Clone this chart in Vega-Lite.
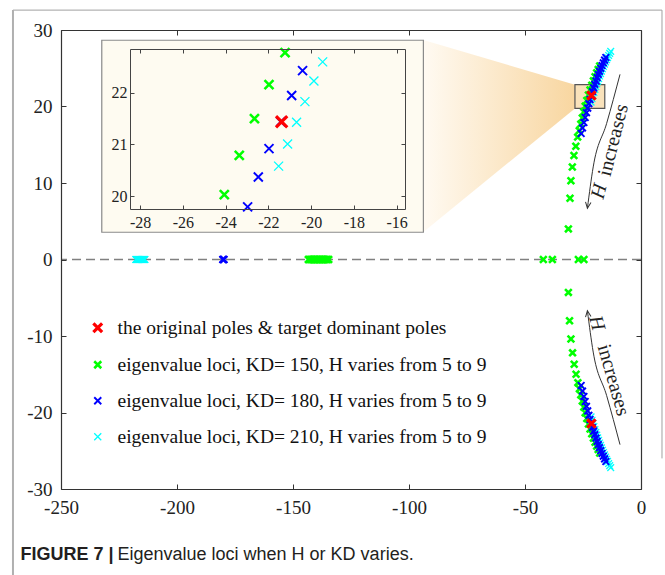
{
"$schema": "https://vega.github.io/schema/vega-lite/v6.json",
"width": 580, "height": 459,
"autosize": {"type": "none"},
"padding": {"left": 61, "top": 30, "right": 24, "bottom": 86},
"background": "#ffffff",
"config": {"view": {"stroke": null}, "font": "Liberation Serif", "axis": {"labelFont": "Liberation Serif"}},
"datasets": {
 "poles": [
  {"s":"g","x":-17.8,"y":25.3},{"s":"g","x":-18.45,"y":24.85},{"s":"g","x":-19.1,"y":24.4},{"s":"g","x":-19.8,"y":23.9},{"s":"g","x":-20.5,"y":23.35},{"s":"g","x":-21.22,"y":22.78},{"s":"g","x":-21.97,"y":22.16},{"s":"g","x":-22.65,"y":21.5},{"s":"g","x":-23.36,"y":20.79},{"s":"g","x":-24.06,"y":20.03},{"s":"g","x":-24.65,"y":19.3},{"s":"g","x":-25.3,"y":18.5},{"s":"g","x":-25.95,"y":17.7},{"s":"g","x":-26.6,"y":16.85},{"s":"g","x":-27.3,"y":16.0},{"s":"g","x":-28.1,"y":14.8},{"s":"g","x":-28.9,"y":13.6},{"s":"g","x":-29.6,"y":12.1},{"s":"g","x":-30.2,"y":10.3},{"s":"g","x":-30.6,"y":8.0},{"s":"g","x":-31.3,"y":4.0},
  {"s":"g","x":-17.8,"y":-25.3},{"s":"g","x":-18.45,"y":-24.85},{"s":"g","x":-19.1,"y":-24.4},{"s":"g","x":-19.8,"y":-23.9},{"s":"g","x":-20.5,"y":-23.35},{"s":"g","x":-21.22,"y":-22.78},{"s":"g","x":-21.97,"y":-22.16},{"s":"g","x":-22.65,"y":-21.5},{"s":"g","x":-23.36,"y":-20.79},{"s":"g","x":-24.06,"y":-20.03},{"s":"g","x":-24.65,"y":-19.3},{"s":"g","x":-25.3,"y":-18.5},{"s":"g","x":-25.95,"y":-17.7},{"s":"g","x":-26.55,"y":-16.9},{"s":"g","x":-27.2,"y":-16.1},{"s":"g","x":-28.0,"y":-15.0},{"s":"g","x":-28.8,"y":-13.7},{"s":"g","x":-29.5,"y":-12.2},{"s":"g","x":-30.2,"y":-10.4},{"s":"g","x":-30.8,"y":-8.0},{"s":"g","x":-31.3,"y":-4.3},
  {"s":"g","x":-143.4,"y":0},{"s":"g","x":-143.0,"y":0},{"s":"g","x":-142.5,"y":0},{"s":"g","x":-142.1,"y":0},{"s":"g","x":-141.7,"y":0},{"s":"g","x":-141.2,"y":0},{"s":"g","x":-140.8,"y":0},{"s":"g","x":-140.4,"y":0},{"s":"g","x":-139.9,"y":0},{"s":"g","x":-139.5,"y":0},{"s":"g","x":-139.0,"y":0},{"s":"g","x":-138.6,"y":0},{"s":"g","x":-138.2,"y":0},{"s":"g","x":-137.7,"y":0},{"s":"g","x":-137.3,"y":0},{"s":"g","x":-136.9,"y":0},{"s":"g","x":-136.4,"y":0},{"s":"g","x":-136.0,"y":0},{"s":"g","x":-135.5,"y":0},{"s":"g","x":-135.1,"y":0},{"s":"g","x":-134.6,"y":0},
  {"s":"g","x":-42.1,"y":0},{"s":"g","x":-38.2,"y":0},{"s":"g","x":-27.0,"y":0},{"s":"g","x":-24.6,"y":0},
  {"s":"c","x":-21.52,"y":20.58},{"s":"c","x":-21.1,"y":21.01},{"s":"c","x":-20.68,"y":21.43},{"s":"c","x":-20.29,"y":21.83},{"s":"c","x":-19.87,"y":22.23},{"s":"c","x":-19.46,"y":22.6},{"s":"c","x":-19.06,"y":22.96},{"s":"c","x":-18.66,"y":23.31},{"s":"c","x":-18.26,"y":23.65},{"s":"c","x":-17.86,"y":23.98},{"s":"c","x":-17.45,"y":24.3},{"s":"c","x":-17.03,"y":24.62},{"s":"c","x":-16.6,"y":24.93},{"s":"c","x":-16.17,"y":25.23},{"s":"c","x":-15.73,"y":25.53},{"s":"c","x":-15.29,"y":25.82},{"s":"c","x":-14.84,"y":26.11},{"s":"c","x":-14.4,"y":26.39},{"s":"c","x":-13.95,"y":26.67},{"s":"c","x":-13.5,"y":26.94},{"s":"c","x":-13.05,"y":27.21},
  {"s":"c","x":-21.52,"y":-20.58},{"s":"c","x":-21.1,"y":-21.01},{"s":"c","x":-20.68,"y":-21.43},{"s":"c","x":-20.29,"y":-21.83},{"s":"c","x":-19.87,"y":-22.23},{"s":"c","x":-19.46,"y":-22.6},{"s":"c","x":-19.06,"y":-22.96},{"s":"c","x":-18.66,"y":-23.31},{"s":"c","x":-18.26,"y":-23.65},{"s":"c","x":-17.86,"y":-23.98},{"s":"c","x":-17.45,"y":-24.3},{"s":"c","x":-17.03,"y":-24.62},{"s":"c","x":-16.6,"y":-24.93},{"s":"c","x":-16.17,"y":-25.23},{"s":"c","x":-15.73,"y":-25.53},{"s":"c","x":-15.29,"y":-25.82},{"s":"c","x":-14.84,"y":-26.11},{"s":"c","x":-14.4,"y":-26.39},{"s":"c","x":-13.95,"y":-26.67},{"s":"c","x":-13.5,"y":-26.94},{"s":"c","x":-13.05,"y":-27.21},
  {"s":"c","x":-217.8,"y":0},{"s":"c","x":-217.6,"y":0},{"s":"c","x":-217.4,"y":0},{"s":"c","x":-217.2,"y":0},{"s":"c","x":-217.0,"y":0},{"s":"c","x":-216.8,"y":0},{"s":"c","x":-216.6,"y":0},{"s":"c","x":-216.4,"y":0},{"s":"c","x":-216.2,"y":0},{"s":"c","x":-216.0,"y":0},{"s":"c","x":-215.8,"y":0},{"s":"c","x":-215.6,"y":0},{"s":"c","x":-215.4,"y":0},{"s":"c","x":-215.2,"y":0},{"s":"c","x":-215.0,"y":0},{"s":"c","x":-214.8,"y":0},{"s":"c","x":-214.6,"y":0},{"s":"c","x":-214.4,"y":0},{"s":"c","x":-214.2,"y":0},{"s":"c","x":-214.0,"y":0},{"s":"c","x":-213.8,"y":0},
  {"s":"b","x":-15.15,"y":26.4},{"s":"b","x":-15.7,"y":26.06},{"s":"b","x":-16.25,"y":25.71},{"s":"b","x":-16.8,"y":25.35},{"s":"b","x":-17.35,"y":24.98},{"s":"b","x":-17.9,"y":24.59},{"s":"b","x":-18.4,"y":24.19},{"s":"b","x":-18.9,"y":23.77},{"s":"b","x":-19.4,"y":23.34},{"s":"b","x":-19.9,"y":22.89},{"s":"b","x":-20.4,"y":22.43},{"s":"b","x":-20.91,"y":21.95},{"s":"b","x":-21.42,"y":21.44},{"s":"b","x":-21.97,"y":20.92},{"s":"b","x":-22.47,"y":20.37},{"s":"b","x":-22.97,"y":19.79},{"s":"b","x":-23.5,"y":19.19},{"s":"b","x":-24.05,"y":18.56},{"s":"b","x":-24.6,"y":17.9},{"s":"b","x":-25.2,"y":17.2},{"s":"b","x":-25.8,"y":16.47},
  {"s":"b","x":-15.15,"y":-26.4},{"s":"b","x":-15.7,"y":-26.06},{"s":"b","x":-16.25,"y":-25.71},{"s":"b","x":-16.8,"y":-25.35},{"s":"b","x":-17.35,"y":-24.98},{"s":"b","x":-17.9,"y":-24.59},{"s":"b","x":-18.4,"y":-24.19},{"s":"b","x":-18.9,"y":-23.77},{"s":"b","x":-19.4,"y":-23.34},{"s":"b","x":-19.9,"y":-22.89},{"s":"b","x":-20.4,"y":-22.43},{"s":"b","x":-20.91,"y":-21.95},{"s":"b","x":-21.42,"y":-21.44},{"s":"b","x":-21.97,"y":-20.92},{"s":"b","x":-22.47,"y":-20.37},{"s":"b","x":-22.97,"y":-19.79},{"s":"b","x":-23.5,"y":-19.19},{"s":"b","x":-24.05,"y":-18.56},{"s":"b","x":-24.6,"y":-17.9},{"s":"b","x":-25.2,"y":-17.2},{"s":"b","x":-25.8,"y":-16.47},
  {"s":"b","x":-180.3,"y":0},{"s":"b","x":-180.15,"y":0},{"s":"b","x":-180.0,"y":0},{"s":"b","x":-179.85,"y":0},{"s":"b","x":-179.7,"y":0},
  {"s":"r","x":-21.38,"y":21.44},{"s":"r","x":-21.38,"y":-21.44}
 ],
 "arrows": [
  {"g":"up","x":-9.05,"y":24.2},{"g":"up","x":-14.8,"y":17.8},{"g":"up","x":-20.6,"y":12.1},{"g":"up","x":-23.1,"y":6.7},
  {"g":"lo","x":-9.05,"y":-24.2},{"g":"lo","x":-14.8,"y":-17.8},{"g":"lo","x":-20.6,"y":-12.1},{"g":"lo","x":-23.1,"y":-6.7}
 ],
 "wedge": [
  {"x":-93.8,"y":28.7,"y2":3.6},{"x":-28.47,"y":22.85,"y2":19.75}
 ],
 "one": [{}]
},
"layer": [
 {
  "layer": [
   {
    "data": {"name": "wedge"},
    "mark": {"type": "area", "color": {"gradient": "linear", "x1": 0, "y1": 0, "x2": 1, "y2": 0, "stops": [{"offset": 0, "color": "#fffaf2"}, {"offset": 1, "color": "#f8d6a0"}]}},
    "encoding": {
     "x": {"field": "x", "type": "quantitative", "scale": {"domain": [-250, 0], "nice": false, "zero": false, "clamp": false}, "axis": null},
     "y": {"field": "y", "type": "quantitative", "scale": {"domain": [-30, 30], "nice": false, "zero": false, "clamp": false}, "axis": null},
     "y2": {"field": "y2"}
    }
   },
   {
    "data": {"name": "one"},
    "mark": {"type": "rect", "fill": "#f9e2bb", "stroke": "#555555", "strokeWidth": 1.2},
    "encoding": {
     "x": {"datum": -28.47, "type": "quantitative", "scale": {"domain": [-250, 0], "nice": false, "zero": false, "clamp": false}, "axis": null},
     "x2": {"datum": -15.61},
     "y": {"datum": 19.75, "type": "quantitative", "scale": {"domain": [-30, 30], "nice": false, "zero": false, "clamp": false}, "axis": null},
     "y2": {"datum": 22.85}
    }
   },
   {
    "data": {"name": "one"},
    "mark": {"type": "rule", "color": "#808080", "strokeWidth": 1.3, "strokeDash": [9, 5]},
    "encoding": {
     "y": {"datum": 0, "type": "quantitative", "scale": {"domain": [-30, 30], "nice": false, "zero": false, "clamp": false}, "axis": null}
    }
   },
   {
    "data": {"name": "one"},
    "mark": {"type": "rule", "color": "#a0a0a0", "strokeWidth": 1},
    "encoding": {
     "x": {"datum": -270.7, "type": "quantitative", "scale": {"domain": [-250, 0], "nice": false, "zero": false, "clamp": false},
       "axis": {"orient": "top", "values": [-250, -200, -150, -100, -50, 0], "labels": false, "tickSize": -5, "tickColor": "#333333", "domainColor": "#333333", "domainWidth": 1.2, "grid": false, "zindex": 1,
         "title": "FIGURE 7 |", "titleFont": "Liberation Sans", "titleFontSize": 18, "titleFontWeight": "bold", "titleColor": "#231f20", "titleAnchor": "start", "titleAlign": "left", "titleBaseline": "alphabetic", "titleX": -41, "titleY": 529}},
     "x2": {"datum": 9.05},
     "y": {"datum": 32.6, "type": "quantitative", "scale": {"domain": [-30, 30], "nice": false, "zero": false, "clamp": false}, "axis": null}
    }
   },
   {
    "data": {"name": "one"},
    "mark": {"type": "rule", "color": "#b0b0b0", "strokeWidth": 2},
    "encoding": {
     "x": {"datum": -270.7, "type": "quantitative", "scale": {"domain": [-250, 0], "nice": false, "zero": false, "clamp": false}, "axis": null},
     "y": {"datum": 32.6, "type": "quantitative", "scale": {"domain": [-30, 30], "nice": false, "zero": false, "clamp": false}, "axis": null},
     "y2": {"datum": -42}
    }
   },
   {
    "data": {"name": "one"},
    "mark": {"type": "rule", "color": "#a0a0a0", "strokeWidth": 1},
    "encoding": {
     "x": {"datum": 9.05, "type": "quantitative", "scale": {"domain": [-250, 0], "nice": false, "zero": false, "clamp": false}, "axis": null},
     "y": {"datum": 32.6, "type": "quantitative", "scale": {"domain": [-30, 30], "nice": false, "zero": false, "clamp": false},
       "axis": {"orient": "right", "values": [-30, -20, -10, 0, 10, 20, 30], "labels": false, "tickSize": -5, "tickColor": "#333333", "domainColor": "#333333", "domainWidth": 1.2, "grid": false, "title": null, "zindex": 1}},
     "y2": {"datum": -26}
    }
   },
   {
    "data": {"name": "poles"},
    "mark": {"type": "point", "filled": false, "size": 45, "opacity": 1},
    "encoding": {
     "x": {"field": "x", "type": "quantitative", "scale": {"domain": [-250, 0], "nice": false, "zero": false, "clamp": false},
       "axis": {"orient": "bottom", "values": [-250, -200, -150, -100, -50, 0], "tickSize": -5, "tickColor": "#333333", "domainColor": "#333333", "domainWidth": 1.2, "labelFont": "Liberation Serif", "labelFontSize": 19, "labelColor": "#222222", "labelPadding": 14, "labelDx": 3, "labelFlush": false, "labelOverlap": false, "labelExpr": "datum.value + ''", "grid": false, "zindex": 1,
         "title": "Eigenvalue loci when H or KD varies.", "titleFont": "Liberation Sans", "titleFontSize": 18, "titleFontWeight": "normal", "titleColor": "#231f20", "titleAnchor": "start", "titleAlign": "left", "titleBaseline": "alphabetic", "titleX": 56, "titleY": 70}},
     "y": {"field": "y", "type": "quantitative", "scale": {"domain": [-30, 30], "nice": false, "zero": false, "clamp": false},
       "axis": {"orient": "left", "values": [-30, -20, -10, 0, 10, 20, 30], "tickSize": -5, "tickColor": "#333333", "domainColor": "#333333", "domainWidth": 1.2, "labelFont": "Liberation Serif", "labelFontSize": 19, "labelColor": "#222222", "labelPadding": 14, "labelFlush": false, "labelOverlap": false, "labelExpr": "datum.value + ''", "grid": false, "title": null, "zindex": 1}},
     "color": {"field": "s", "type": "nominal", "scale": {"domain": ["r", "g", "b", "c"], "range": ["#ff0000", "#00ff00", "#0000ff", "#00ffff"]},
       "legend": {"orient": "none", "legendX": 27, "legendY": 288, "title": null, "padding": 0, "labelFont": "Liberation Serif", "labelFontSize": 19.5, "labelColor": "#111111", "labelLimit": 0, "labelOffset": 10, "symbolSize": 49, "symbolOpacity": 1, "rowPadding": 15,
         "labelExpr": "datum.label == 'r' ? 'the original poles & target dominant poles' : datum.label == 'g' ? 'eigenvalue loci, KD= 150, H varies from 5 to 9' : datum.label == 'b' ? 'eigenvalue loci, KD= 180, H varies from 5 to 9' : 'eigenvalue loci, KD= 210, H varies from 5 to 9'"}},
     "shape": {"field": "s", "type": "nominal", "scale": {"domain": ["r", "g", "b", "c"], "range": ["M-1.25,-1.25L1.25,1.25M-1.25,1.25L1.25,-1.25", "M-1,-1L1,1M-1,1L1,-1", "M-1,-1L1,1M-1,1L1,-1", "M-1,-1L1,1M-1,1L1,-1"]}},
     "strokeWidth": {"field": "s", "type": "nominal", "scale": {"domain": ["r", "g", "b", "c"], "range": [3.2, 1.3, 1.3, 1.3]}}
    }
   },
   {
    "data": {"name": "arrows"},
    "mark": {"type": "line", "color": "#333333", "strokeWidth": 1, "interpolate": "monotone"},
    "encoding": {
     "x": {"field": "x", "type": "quantitative", "scale": {"domain": [-250, 0], "nice": false, "zero": false, "clamp": false}, "axis": null},
     "y": {"field": "y", "type": "quantitative", "scale": {"domain": [-30, 30], "nice": false, "zero": false, "clamp": false}, "axis": null},
     "detail": {"field": "g"}
    }
   },
   {
    "data": {"name": "one"},
    "mark": {"type": "point", "shape": "M-0.45,-1L0,0L0.45,-1", "filled": false, "opacity": 1, "stroke": "#333333", "strokeWidth": 1, "size": 150, "angle": 8},
    "encoding": {
     "x": {"datum": -23.1, "type": "quantitative", "scale": {"domain": [-250, 0], "nice": false, "zero": false, "clamp": false}, "axis": null},
     "y": {"datum": 6.7, "type": "quantitative", "scale": {"domain": [-30, 30], "nice": false, "zero": false, "clamp": false}, "axis": null}
    }
   },
   {
    "data": {"name": "one"},
    "mark": {"type": "point", "shape": "M-0.45,1L0,0L0.45,1", "filled": false, "opacity": 1, "stroke": "#333333", "strokeWidth": 1, "size": 150, "angle": -8},
    "encoding": {
     "x": {"datum": -23.1, "type": "quantitative", "scale": {"domain": [-250, 0], "nice": false, "zero": false, "clamp": false}, "axis": null},
     "y": {"datum": -6.7, "type": "quantitative", "scale": {"domain": [-30, 30], "nice": false, "zero": false, "clamp": false}, "axis": null}
    }
   },
   {
    "data": {"name": "one"},
    "mark": {"type": "text", "text": "H", "font": "Liberation Serif", "fontStyle": "italic", "fontSize": 20, "angle": -76, "color": "#222222", "align": "center", "baseline": "middle"},
    "encoding": {
     "x": {"datum": -18.0, "type": "quantitative", "scale": {"domain": [-250, 0], "nice": false, "zero": false, "clamp": false}, "axis": null},
     "y": {"datum": 8.9, "type": "quantitative", "scale": {"domain": [-30, 30], "nice": false, "zero": false, "clamp": false}, "axis": null}
    }
   },
   {
    "data": {"name": "one"},
    "mark": {"type": "text", "text": "increases", "font": "Liberation Serif", "fontSize": 20, "angle": -76, "color": "#222222", "align": "center", "baseline": "middle"},
    "encoding": {
     "x": {"datum": -11.9, "type": "quantitative", "scale": {"domain": [-250, 0], "nice": false, "zero": false, "clamp": false}, "axis": null},
     "y": {"datum": 15.6, "type": "quantitative", "scale": {"domain": [-30, 30], "nice": false, "zero": false, "clamp": false}, "axis": null}
    }
   },
   {
    "data": {"name": "one"},
    "mark": {"type": "text", "text": "H", "font": "Liberation Serif", "fontStyle": "italic", "fontSize": 20, "angle": 74, "color": "#222222", "align": "center", "baseline": "middle"},
    "encoding": {
     "x": {"datum": -19.1, "type": "quantitative", "scale": {"domain": [-250, 0], "nice": false, "zero": false, "clamp": false}, "axis": null},
     "y": {"datum": -8.3, "type": "quantitative", "scale": {"domain": [-30, 30], "nice": false, "zero": false, "clamp": false}, "axis": null}
    }
   },
   {
    "data": {"name": "one"},
    "mark": {"type": "text", "text": "increases", "font": "Liberation Serif", "fontSize": 20, "angle": 74, "color": "#222222", "align": "center", "baseline": "middle"},
    "encoding": {
     "x": {"datum": -11.9, "type": "quantitative", "scale": {"domain": [-250, 0], "nice": false, "zero": false, "clamp": false}, "axis": null},
     "y": {"datum": -15.75, "type": "quantitative", "scale": {"domain": [-30, 30], "nice": false, "zero": false, "clamp": false}, "axis": null}
    }
   }
  ],
  "resolve": {"axis": {"x": "independent", "y": "independent"}}
 },
 {
  "layer": [
   {
    "data": {"name": "one"},
    "mark": {"type": "rect", "fill": "#fefbf1", "stroke": "#8a8a8a", "strokeWidth": 1.2},
    "encoding": {
     "x": {"datum": -29.79, "type": "quantitative", "scale": {"domain": [-28.47, -15.61], "range": [69, 344], "nice": false, "zero": false, "clamp": false},
       "axis": {"orient": "top", "offset": -19, "values": [-28, -26, -24, -22, -20, -18, -16], "labels": false, "tickSize": -4, "tickColor": "#444444", "domainColor": "#444444", "grid": false, "title": null, "zindex": 2}},
     "x2": {"datum": -14.75},
     "y": {"datum": 23.02, "type": "quantitative", "scale": {"domain": [19.75, 22.85], "range": [179, 19], "nice": false, "zero": false, "clamp": false},
       "axis": {"orient": "right", "offset": -236, "values": [20, 21, 22], "labels": false, "tickSize": -4, "tickColor": "#444444", "domainColor": "#444444", "grid": false, "title": null, "zindex": 2}},
     "y2": {"datum": 19.3}
    }
   },
   {
    "data": {"name": "poles"},
    "transform": [{"filter": {"field": "x", "range": [-28.47, -15.61]}}, {"filter": {"field": "y", "range": [19.75, 22.85]}}],
    "mark": {"type": "point", "filled": false, "size": 81, "opacity": 1},
    "encoding": {
     "x": {"field": "x", "type": "quantitative", "scale": {"domain": [-28.47, -15.61], "range": [69, 344], "nice": false, "zero": false, "clamp": false},
       "axis": {"orient": "bottom", "offset": -280, "values": [-28, -26, -24, -22, -20, -18, -16], "tickSize": -4, "tickColor": "#444444", "domainColor": "#444444", "labelFont": "Liberation Serif", "labelFontSize": 16, "labelColor": "#222222", "labelPadding": 9, "labelFlush": false, "labelOverlap": false, "labelExpr": "datum.value + ''", "grid": false, "title": null, "zindex": 2}},
     "y": {"field": "y", "type": "quantitative", "scale": {"domain": [19.75, 22.85], "range": [179, 19], "nice": false, "zero": false, "clamp": false},
       "axis": {"orient": "left", "offset": -69, "values": [20, 21, 22], "tickSize": -4, "tickColor": "#444444", "domainColor": "#444444", "labelFont": "Liberation Serif", "labelFontSize": 16, "labelColor": "#222222", "labelPadding": 7, "labelFlush": false, "labelOverlap": false, "labelExpr": "datum.value + ''", "grid": false, "title": null, "zindex": 2}},
     "color": {"field": "s", "type": "nominal", "scale": {"domain": ["r", "g", "b", "c"], "range": ["#ff0000", "#00ff00", "#0000ff", "#00ffff"]}},
     "shape": {"field": "s", "type": "nominal", "scale": {"domain": ["r", "g", "b", "c"], "range": ["M-1.25,-1.25L1.25,1.25M-1.25,1.25L1.25,-1.25", "M-1,-1L1,1M-1,1L1,-1", "M-1,-1L1,1M-1,1L1,-1", "M-1,-1L1,1M-1,1L1,-1"]}},
     "strokeWidth": {"field": "s", "type": "nominal", "scale": {"domain": ["r", "g", "b", "c"], "range": [3.2, 1.3, 1.3, 1.3]}}
    }
   }
  ],
  "resolve": {"axis": {"x": "independent", "y": "independent"}}
 }
],
"resolve": {"scale": {"x": "independent", "y": "independent"}, "axis": {"x": "independent", "y": "independent"}}
}
